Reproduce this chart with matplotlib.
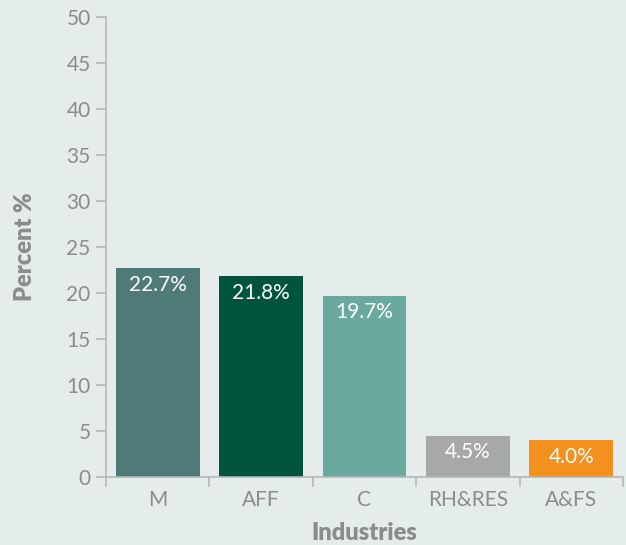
import matplotlib
matplotlib.use("Agg")
import matplotlib.pyplot as plt
import numpy as np

categories = ["M", "AFF", "C", "RH&RES", "A&FS"]
values = [22.7, 21.8, 19.7, 4.5, 4.0]
labels = ["22.7%", "21.8%", "19.7%", "4.5%", "4.0%"]
colors = ["#4E7A77", "#00533C", "#69A99E", "#A7A8AA", "#F4901E"]
yticks = [0, 5, 10, 15, 20, 25, 30, 35, 40, 45, 50]

plt.rcParams['font.family'] = ['Lato', 'DejaVu Sans']
bg = "#E4EDEB"
txt = "#8A8C8E"
axc = "#B5B7B8"

fig = plt.figure(figsize=(6.26, 5.45), dpi=100, facecolor=bg)
ax = fig.add_axes([106/626, 68/545, 517/626, 460/545], facecolor=bg)

x = np.arange(len(categories))
bars = ax.bar(x, values, width=0.81, color=colors, zorder=2)
for xi, v, lab in zip(x, values, labels):
    ax.text(xi, v - 0.7, lab, ha="center", va="top", color="white", fontsize=15, zorder=3)

ax.set_xlim(-0.5, 4.5)
ax.set_ylim(0, 50)
ax.set_yticks(yticks)
ax.set_yticklabels([str(t) for t in yticks])
ax.set_xticks(x)
ax.set_xticklabels(categories)
ax.set_xticks(np.arange(-0.5, 5, 1), minor=True)
ax.tick_params(axis="x", which="major", length=0, pad=9, labelsize=15, labelcolor=txt)
ax.tick_params(axis="x", which="minor", length=7, width=1.2, color=axc)
ax.tick_params(axis="y", length=7, width=1.2, color=axc, labelsize=15, labelcolor=txt, pad=4)

for s in ["top", "right"]:
    ax.spines[s].set_visible(False)
for s in ["left", "bottom"]:
    ax.spines[s].set_color(axc)
    ax.spines[s].set_linewidth(1.2)

ax.set_xlabel("Industries", fontsize=17, fontweight="heavy", color=txt, labelpad=9)
ax.set_ylabel("Percent %", fontsize=17, fontweight="heavy", color=txt, labelpad=22)

fig.savefig("out.png", dpi=100, facecolor=bg)
